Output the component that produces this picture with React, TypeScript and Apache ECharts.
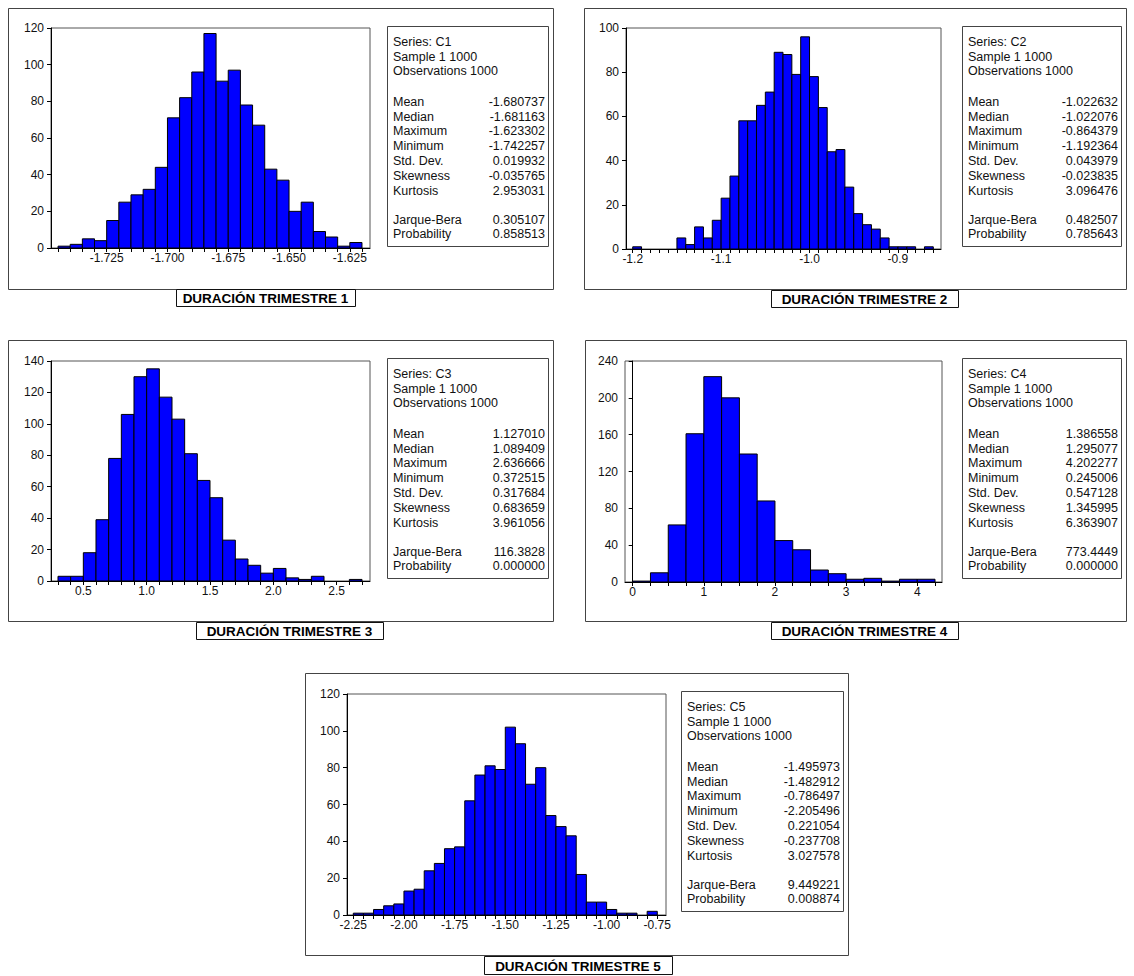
import React, { useEffect, useRef } from "react";
import * as echarts from "echarts";

// ---- Histogram counts (1000 draws each) ----
const c1Counts = [1, 2, 5, 4, 15, 25, 29, 32, 44, 71, 82, 96, 117, 91, 97, 78, 67, 43, 37, 20, 25, 9, 6, 1, 3];
const c1Start = -1.745;
const c1Width = 0.005;
const c1Labels = [-1.725, -1.7, -1.675, -1.65, -1.625];

const c2Counts = [1, 0, 0, 0, 0, 5, 2, 10, 5, 13, 23, 33, 58, 58, 65, 71, 89, 88, 79, 96, 78, 64, 44, 45, 28, 16, 11, 9, 5, 1, 1, 1, 0, 1];
const c2Start = -1.2;
const c2Width = 0.01;
const c2Labels = [-1.2, -1.1, -1.0, -0.9];

const c3Counts = [3, 3, 18, 39, 78, 106, 130, 135, 117, 103, 81, 64, 53, 26, 14, 10, 5, 8, 2, 1, 3, 0, 0, 1];
const c3Start = 0.3;
const c3Width = 0.1;
const c3Labels = [0.5, 1.0, 1.5, 2.0, 2.5];

const c4Counts = [1, 10, 62, 161, 223, 200, 139, 88, 45, 35, 13, 9, 3, 4, 1, 3, 3];
const c4Start = 0;
const c4Width = 0.25;
const c4Labels = [0, 1, 2, 3, 4];

const c5Counts = [1, 1, 3, 5, 6, 13, 14, 24, 28, 36, 37, 62, 76, 81, 79, 102, 93, 71, 80, 54, 48, 43, 22, 7, 7, 3, 1, 1, 0, 2];
const c5Start = -2.25;
const c5Width = 0.05;
const c5Labels = [-2.25, -2.0, -1.75, -1.5, -1.25, -1.0, -0.75];

// ---- Descriptive statistics ----
const statNames = ["Mean", "Median", "Maximum", "Minimum", "Std. Dev.", "Skewness", "Kurtosis"];
const testNames = ["Jarque-Bera", "Probability"];

const c1Stats = ["-1.680737", "-1.681163", "-1.623302", "-1.742257", "0.019932", "-0.035765", "2.953031"];
const c1Tests = ["0.305107", "0.858513"];
const c2Stats = ["-1.022632", "-1.022076", "-0.864379", "-1.192364", "0.043979", "-0.023835", "3.096476"];
const c2Tests = ["0.482507", "0.785643"];
const c3Stats = ["1.127010", "1.089409", "2.636666", "0.372515", "0.317684", "0.683659", "3.961056"];
const c3Tests = ["116.3828", "0.000000"];
const c4Stats = ["1.386558", "1.295077", "4.202277", "0.245006", "0.547128", "1.345995", "6.363907"];
const c4Tests = ["773.4449", "0.000000"];
const c5Stats = ["-1.495973", "-1.482912", "-0.786497", "-2.205496", "0.221054", "-0.237708", "3.027578"];
const c5Tests = ["9.449221", "0.008874"];

type Rect = [number, number, number, number]; // x0, y0, x1, y1

interface Panel {
  series: string;
  title: string;
  counts: number[];
  start: number;
  width: number;
  labels: number[];
  decimals: number;
  yMax: number;
  yInterval: number;
  xMin: number;
  xMax: number;
  stats: string[];
  tests: string[];
  outer: Rect;
  plot: Rect;
  box: Rect;
  titleBox: Rect;
}

const panels: Panel[] = [
  {
    series: "C1", title: "DURACIÓN TRIMESTRE 1",
    counts: c1Counts, start: c1Start, width: c1Width, labels: c1Labels, decimals: 3,
    yMax: 120, yInterval: 20, xMin: -1.7479, xMax: -1.6167,
    stats: c1Stats, tests: c1Tests,
    outer: [8, 8, 553, 289], plot: [51, 28, 370, 248], box: [387, 26, 548, 246], titleBox: [176, 289, 355, 306],
  },
  {
    series: "C2", title: "DURACIÓN TRIMESTRE 2",
    counts: c2Counts, start: c2Start, width: c2Width, labels: c2Labels, decimals: 1,
    yMax: 100, yInterval: 20, xMin: -1.2076, xMax: -0.8513,
    stats: c2Stats, tests: c2Tests,
    outer: [584, 8, 1126, 289], plot: [626, 28, 941, 249], box: [962, 26, 1121, 246], titleBox: [771, 290, 958, 307],
  },
  {
    series: "C3", title: "DURACIÓN TRIMESTRE 3",
    counts: c3Counts, start: c3Start, width: c3Width, labels: c3Labels, decimals: 1,
    yMax: 140, yInterval: 20, xMin: 0.2448, xMax: 2.763,
    stats: c3Stats, tests: c3Tests,
    outer: [8, 340, 553, 621], plot: [51, 361, 370, 581], box: [387, 358, 548, 578], titleBox: [196, 622, 383, 639],
  },
  {
    series: "C4", title: "DURACIÓN TRIMESTRE 4",
    counts: c4Counts, start: c4Start, width: c4Width, labels: c4Labels, decimals: 0,
    yMax: 240, yInterval: 40, xMin: -0.108, xMax: 4.348,
    stats: c4Stats, tests: c4Tests,
    outer: [585, 340, 1126, 621], plot: [625, 361, 942, 582], box: [962, 358, 1121, 578], titleBox: [771, 622, 958, 639],
  },
  {
    series: "C5", title: "DURACIÓN TRIMESTRE 5",
    counts: c5Counts, start: c5Start, width: c5Width, labels: c5Labels, decimals: 2,
    yMax: 120, yInterval: 20, xMin: -2.281, xMax: -0.707,
    stats: c5Stats, tests: c5Tests,
    outer: [305, 673, 848, 955], plot: [347, 694, 666, 915], box: [681, 691, 843, 911], titleBox: [484, 956, 672, 974],
  },
];

const FONT = "'Liberation Sans', Arial, sans-serif";

function binEdges(p: Panel): number[] {
  return p.counts.map((_, i) => p.start + i * p.width).concat([p.start + p.counts.length * p.width]);
}

function buildOption(): echarts.EChartsOption {
  const grids: any[] = [];
  const xAxes: any[] = [];
  const yAxes: any[] = [];
  const series: any[] = [];
  const graphics: any[] = [];

  panels.forEach((p, k) => {
    const [px0, py0, px1, py1] = p.plot;
    grids.push({
      left: px0, top: py0, width: px1 - px0, height: py1 - py0,
      show: true, borderColor: "#555", borderWidth: 1, backgroundColor: "transparent",
      containLabel: false,
    });
    const edges = binEdges(p);
    xAxes.push({
      type: "value", gridIndex: k, min: p.xMin, max: p.xMax,
      axisLine: { show: true, onZero: false, lineStyle: { color: "#000", width: 1 } },
      axisTick: { show: true, length: 4, customValues: edges, lineStyle: { color: "#000" } },
      axisLabel: {
        show: true, customValues: p.labels, fontSize: 12, color: "#111", margin: 4, fontFamily: FONT,
        formatter: (v: number) => v.toFixed(p.decimals),
      },
      splitLine: { show: false },
    });
    yAxes.push({
      type: "value", gridIndex: k, min: 0, max: p.yMax, interval: p.yInterval,
      axisLine: { show: true, lineStyle: { color: "#000", width: 1 } },
      axisTick: { show: true, length: 4, lineStyle: { color: "#000" } },
      axisLabel: { fontSize: 12, color: "#111", margin: 7, fontFamily: FONT },
      splitLine: { show: false },
    });
    series.push({
      type: "custom",
      xAxisIndex: k,
      yAxisIndex: k,
      encode: { x: [0, 1], y: 2 },
      data: p.counts.map((c, i) => [edges[i], edges[i + 1], c]),
      renderItem: (_params: any, api: any) => {
        const v = api.value(2);
        if (!v) return null;
        const a = api.coord([api.value(0), v]);
        const b = api.coord([api.value(1), 0]);
        return {
          type: "rect",
          shape: { x: a[0], y: a[1], width: b[0] - a[0], height: b[1] - a[1] },
          style: { fill: "#0000ff", stroke: "#000", lineWidth: 1 },
        };
      },
    });

    // outer panel frame
    const [ox0, oy0, ox1, oy1] = p.outer;
    graphics.push({
      type: "rect", z: -1,
      shape: { x: ox0 + 0.5, y: oy0 + 0.5, width: ox1 - ox0, height: oy1 - oy0 },
      style: { fill: "#fff", stroke: "#444", lineWidth: 1 },
    });

    // statistics box
    const [bx0, by0, bx1, by1] = p.box;
    graphics.push({
      type: "rect",
      shape: { x: bx0 + 0.5, y: by0 + 0.5, width: bx1 - bx0, height: by1 - by0 },
      style: { fill: "#fff", stroke: "#444", lineWidth: 1 },
    });
    const lh = 14.83;
    const lx = bx0 + 6;
    const rx = bx1 - 3;
    const textStyle = (extra: any) => ({ font: `12.5px ${FONT}`, fill: "#111", textVerticalAlign: "middle", ...extra });
    const header = [`Series: ${p.series}`, "Sample 1 1000", "Observations 1000"];
    header.forEach((t, i) => {
      graphics.push({ type: "text", x: lx, y: by0 + 15.7 + i * lh, style: textStyle({ text: t, textAlign: "left" }) });
    });
    statNames.forEach((n, i) => {
      const y = by0 + 75.7 + i * lh;
      graphics.push({ type: "text", x: lx, y, style: textStyle({ text: n, textAlign: "left" }) });
      graphics.push({ type: "text", x: rx, y, style: textStyle({ text: p.stats[i], textAlign: "right" }) });
    });
    testNames.forEach((n, i) => {
      const y = by0 + 194 + i * 14.3;
      graphics.push({ type: "text", x: lx, y, style: textStyle({ text: n, textAlign: "left" }) });
      graphics.push({ type: "text", x: rx, y, style: textStyle({ text: p.tests[i], textAlign: "right" }) });
    });

    // title tab under the panel
    const [tx0, ty0, tx1, ty1] = p.titleBox;
    graphics.push({
      type: "rect",
      shape: { x: tx0 + 0.5, y: ty0 + 0.5, width: tx1 - tx0, height: ty1 - ty0 },
      style: { fill: "#fff", stroke: "#111", lineWidth: 1 },
    });
    graphics.push({
      type: "text", x: (tx0 + tx1) / 2, y: (ty0 + ty1) / 2 + 1,
      style: { text: p.title, font: `bold 13.5px ${FONT}`, fill: "#000", textAlign: "center", textVerticalAlign: "middle" },
    });
  });

  return {
    animation: false,
    backgroundColor: "#fff",
    textStyle: { fontFamily: FONT },
    grid: grids,
    xAxis: xAxes,
    yAxis: yAxes,
    series,
    graphic: { elements: graphics },
  };
}

export default function App() {
  const ref = useRef<HTMLDivElement>(null);
  useEffect(() => {
    if (!ref.current) return;
    const chart = echarts.init(ref.current, undefined, { renderer: "svg" });
    chart.setOption(buildOption());
    return () => chart.dispose();
  }, []);
  return (
    <div
      ref={ref}
      style={{ position: "absolute", left: 0, top: 0, width: 1134, height: 976, background: "#fff" }}
    />
  );
}
